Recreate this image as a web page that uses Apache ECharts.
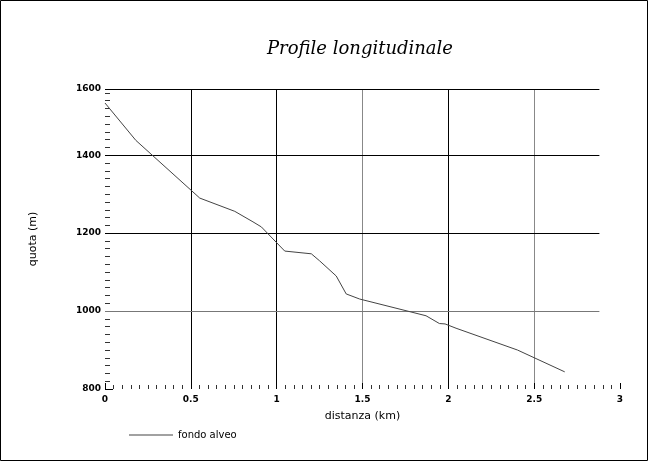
<!DOCTYPE html>
<html>
<head>
<meta charset="utf-8">
<script src="https://cdn.jsdelivr.net/npm/echarts@6/dist/echarts.min.js"></script>
<style>
  html, body { margin: 0; padding: 0; background: #fff; }
  #chart { width: 648px; height: 461px; }
</style>
</head>
<body>
<div id="chart"></div>
<script>
// profile: distance (km) and elevation (m)
const distanza = [0, 0.18, 0.552, 0.756, 0.862, 0.911, 1.047, 1.202, 1.25, 1.347, 1.405, 1.483, 1.87, 1.948, 1.981, 2.045, 2.403, 2.678];
const quota = [1534, 1438, 1290, 1256, 1229, 1216, 1154, 1147, 1129, 1090, 1044, 1031, 988, 968, 967, 956, 900, 844];

const yMin = 800;
const yMax = 1570;      // top frame line sits a bit under 1600 in the original
const yTopLabel = '1600';
const gridRows = [1000, 1200, 1400, yMax];
const gridRowEnd = 2.88; // horizontal lines stop short of the x axis end

const labelFont = 'DejaVu Sans';

let chart = echarts.init(document.getElementById('chart'), null, { renderer: 'canvas' });

let profile = distanza.map((d, i) => [d, quota[i]]);

let rowLines = gridRows.map(v => [
  { coord: [0, v], lineStyle: { color: v === 1000 ? '#777' : '#000' } },
  { coord: [gridRowEnd, v] }
]);

chart.setOption({
  animation: false,
  backgroundColor: '#fff',
  title: {
    text: 'Profile longitudinale',
    left: 262,
    top: 35,
    textStyle: {
      fontFamily: 'DejaVu Serif',
      fontStyle: 'italic',
      fontWeight: 'normal',
      fontSize: 18,
      color: '#000'
    }
  },
  graphic: [{
    type: 'rect',
    shape: { x: 0.5, y: 0.5, width: 647, height: 460 },
    style: { fill: 'none', stroke: '#000', lineWidth: 1 },
    silent: true
  }],
  legend: {
    left: 124,
    top: 425,
    icon: 'rect',
    itemWidth: 44,
    itemHeight: 1,
    itemGap: 6,
    data: ['fondo alveo'],
    textStyle: { fontFamily: labelFont, fontSize: 10, color: '#000' }
  },
  grid: { left: 105, right: 28, top: 89, bottom: 72 },
  xAxis: {
    type: 'value',
    min: 0,
    max: 3,
    interval: 0.5,
    name: 'distanza (km)',
    nameLocation: 'middle',
    nameGap: 22,
    nameTextStyle: { fontFamily: labelFont, fontSize: 11, color: '#000' },
    axisLine: { show: false },
    axisTick: { show: true, inside: true, length: 6, lineStyle: { color: '#000' } },
    minorTick: { show: true, splitNumber: 10, length: 4, lineStyle: { color: '#333' } },
    axisLabel: {
      margin: 6,
      fontFamily: labelFont,
      fontSize: 9,
      fontWeight: 'bold',
      color: '#000',
      formatter: v => String(v)
    },
    splitLine: {
      show: true,
      lineStyle: {
        color: ['rgba(0,0,0,0)', '#000', '#000', '#888', '#000', '#888', 'rgba(0,0,0,0)'],
        width: 1
      }
    }
  },
  yAxis: {
    type: 'value',
    min: yMin,
    max: yMax,
    interval: 200,
    name: 'quota (m)',
    nameLocation: 'middle',
    nameGap: 66,
    nameTextStyle: { fontFamily: labelFont, fontSize: 11, color: '#000' },
    axisLine: { show: false },
    axisTick: { show: true, inside: true, length: 8, lineStyle: { color: '#000' } },
    minorTick: { show: true, splitNumber: 10, length: 5, lineStyle: { color: '#333' } },
    axisLabel: {
      margin: 4,
      fontFamily: labelFont,
      fontSize: 9,
      fontWeight: 'bold',
      color: '#000',
      showMaxLabel: true,
      formatter: v => (v >= yMax ? yTopLabel : String(v))
    },
    splitLine: { show: false }
  },
  series: [
    {
      name: 'fondo alveo',
      type: 'line',
      data: profile,
      showSymbol: false,
      silent: true,
      lineStyle: { color: '#444', width: 1 },
      itemStyle: { color: '#444' },
      z: 5
    },
    {
      name: 'grid rows',
      type: 'line',
      data: [],
      silent: true,
      markLine: {
        silent: true,
        symbol: 'none',
        label: { show: false },
        lineStyle: { type: 'solid', width: 1, color: '#000' },
        data: rowLines
      }
    }
  ]
});
</script>
</body>
</html>
